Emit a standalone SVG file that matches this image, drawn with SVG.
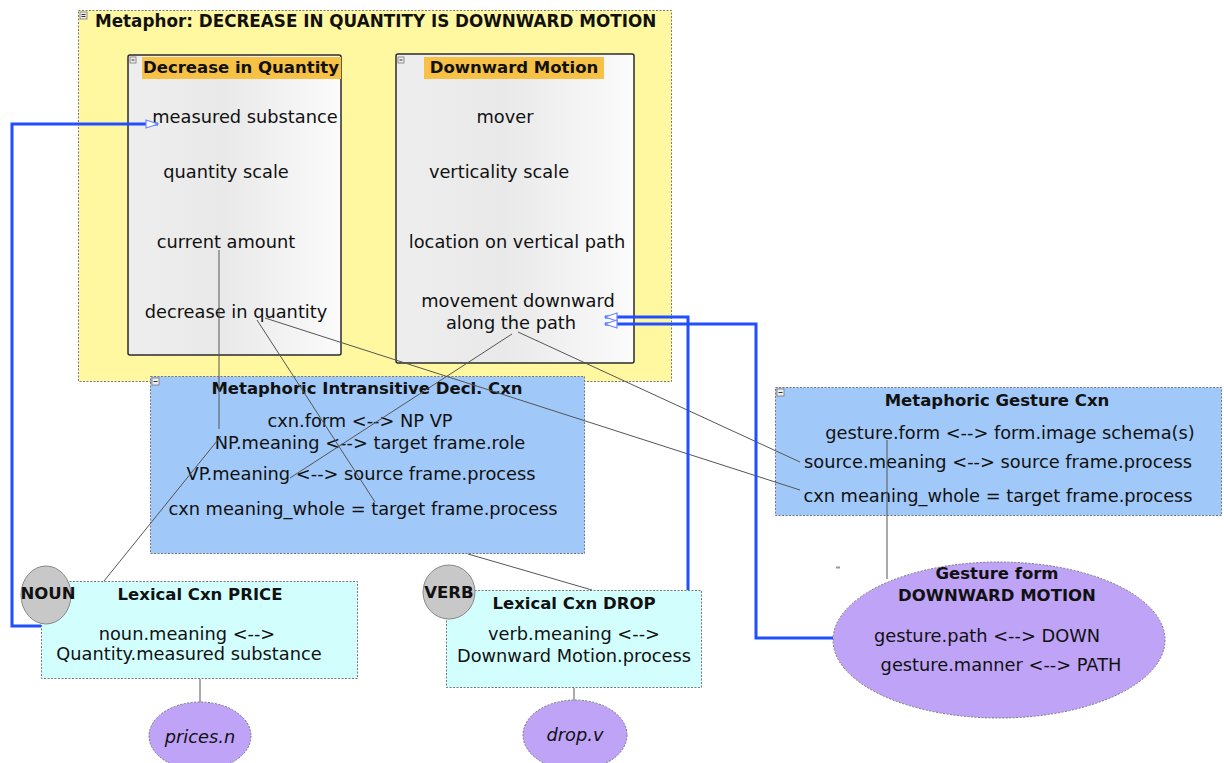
<svg xmlns="http://www.w3.org/2000/svg" width="1224" height="763" viewBox="0 0 1224 763">
  <style>
    text { font-family: "DejaVu Sans", "Liberation Sans", sans-serif; fill: #111; }
    .t { font-size: 17.8px; text-anchor: middle; }
    .b { font-size: 16.5px; font-weight: bold; text-anchor: middle; }
    .i { font-size: 17.8px; font-style: italic; text-anchor: middle; }
    .dash { stroke: #777; stroke-width: 1; stroke-dasharray: 2 1.5; }
    .frame { fill: url(#frameFill); stroke: #2b2b2b; stroke-width: 1.5; }
    .hl { fill: #f6c145; }
    .cxn { fill: #a0c8f8; }
    .lex { fill: #d2fffe; }
    .lav { fill: #bea3f7; }
    .tag { fill: #c8c8c8; stroke: #888; stroke-width: 1; }
    .thin { stroke: #555; stroke-width: 1; fill: none; }
    .bind { stroke: #1f4fff; stroke-width: 3; fill: none; }
    .icon { fill: #eee; stroke: #777; stroke-width: 0.8; }
    .iconline { stroke: #333; stroke-width: 1; }
  </style>
  <defs>
    <linearGradient id="frameFill" x1="0" y1="0" x2="1" y2="0">
      <stop offset="0" stop-color="#eeeeee"/>
      <stop offset="0.45" stop-color="#e9e9e9"/>
      <stop offset="1" stop-color="#fbfbfb"/>
    </linearGradient>
    <marker id="open" viewBox="0 0 14 10" refX="13" refY="5" markerWidth="14" markerHeight="10" markerUnits="userSpaceOnUse" orient="auto">
      <path d="M1,1 L13,5 L1,9 Z" fill="#fff" stroke="#6d86ff" stroke-width="1.2"/>
    </marker>
  </defs>

  <rect width="1224" height="763" fill="#fff"/>

  <!-- metaphor container -->
  <g id="metaphor">
    <rect x="78.5" y="10.5" width="593" height="371" fill="#fff8a0" class="dash"/>
    <rect x="80" y="12" width="7" height="7" class="icon"/>
    <line x1="81.5" y1="14.5" x2="85.5" y2="14.5" class="iconline"/>
    <line x1="81.5" y1="16.5" x2="85.5" y2="16.5" class="iconline"/>
    <text x="95" y="27" font-size="16.8" font-weight="bold">Metaphor: DECREASE IN QUANTITY IS DOWNWARD MOTION</text>
  </g>

  <!-- source/target frames -->
  <g id="frame-quantity">
    <rect x="128" y="55" width="213" height="300" rx="2" class="frame"/>
    <rect x="142" y="57" width="199" height="22" class="hl"/>
    <rect x="130" y="57" width="6" height="6" class="icon"/>
    <line x1="131.5" y1="60" x2="134.5" y2="60" class="iconline"/>
    <text x="241" y="73" class="b">Decrease in Quantity</text>
    <text x="245" y="123" class="t">measured substance</text>
    <text x="226" y="178" class="t">quantity scale</text>
    <text x="226" y="248" class="t">current amount</text>
    <text x="236" y="318" class="t">decrease in quantity</text>
  </g>

  <g id="frame-motion">
    <rect x="396" y="54" width="238" height="309" rx="2" class="frame"/>
    <rect x="424" y="57" width="180" height="22" class="hl"/>
    <rect x="398" y="57" width="6" height="6" class="icon"/>
    <line x1="399.5" y1="60" x2="402.5" y2="60" class="iconline"/>
    <text x="514" y="73" class="b">Downward Motion</text>
    <text x="505" y="123" class="t">mover</text>
    <text x="499" y="178" class="t">verticality scale</text>
    <text x="517" y="248" class="t">location on vertical path</text>
    <text x="518" y="307" class="t">movement downward</text>
    <text x="511" y="329" class="t">along the path</text>
  </g>

  <!-- grammatical construction -->
  <g id="cxn-intransitive">
    <rect x="150.5" y="376.5" width="434" height="177" class="cxn dash"/>
    <rect x="152" y="378" width="7" height="7" class="icon"/>
    <line x1="153.5" y1="381.5" x2="157.5" y2="381.5" class="iconline"/>
    <text x="367" y="394" class="b">Metaphoric Intransitive Decl. Cxn</text>
    <text x="360" y="427" class="t">cxn.form &lt;--&gt; NP VP</text>
    <text x="370" y="449" class="t">NP.meaning &lt;--&gt; target frame.role</text>
    <text x="361" y="480" class="t">VP.meaning &lt;--&gt; source frame.process</text>
    <text x="363" y="515" class="t">cxn meaning_whole = target frame.process</text>
  </g>

  <!-- gesture construction -->
  <g id="cxn-gesture">
    <rect x="775.5" y="387.5" width="446" height="128" class="cxn dash"/>
    <rect x="777" y="389" width="7" height="7" class="icon"/>
    <line x1="778.5" y1="392.5" x2="782.5" y2="392.5" class="iconline"/>
    <text x="997" y="406" class="b">Metaphoric Gesture Cxn</text>
    <text x="1010" y="439" class="t">gesture.form &lt;--&gt; form.image schema(s)</text>
    <text x="998" y="468" class="t">source.meaning &lt;--&gt; source frame.process</text>
    <text x="998" y="502" class="t">cxn meaning_whole = target frame.process</text>
  </g>

  <!-- lexical constructions -->
  <g id="lex-price">
    <rect x="41.5" y="581.5" width="316" height="97" class="lex dash"/>
    <text x="200" y="600" class="b">Lexical Cxn PRICE</text>
    <text x="187" y="640" class="t">noun.meaning &lt;--&gt;</text>
    <text x="189" y="660" class="t">Quantity.measured substance</text>
  </g>
  <g id="tag-noun">
    <ellipse cx="46" cy="595" rx="25" ry="29" class="tag"/>
    <text x="48" y="599" class="b">NOUN</text>
  </g>

  <g id="lex-drop">
    <rect x="446.5" y="590.5" width="255" height="97" class="lex dash"/>
    <text x="574" y="609" class="b">Lexical Cxn DROP</text>
    <text x="574" y="640" class="t">verb.meaning &lt;--&gt;</text>
    <text x="574" y="662" class="t">Downward Motion.process</text>
  </g>
  <g id="tag-verb">
    <ellipse cx="449" cy="592" rx="26" ry="27" class="tag"/>
    <text x="449" y="598" class="b">VERB</text>
  </g>

  <g id="word-prices">
    <ellipse cx="200" cy="736" rx="51" ry="34" class="lav dash"/>
    <text x="200" y="743" class="i">prices.n</text>
  </g>
  <g id="word-drop">
    <ellipse cx="575" cy="735" rx="52" ry="35" class="lav dash"/>
    <text x="575" y="741" class="i">drop.v</text>
  </g>

  <!-- gesture form -->
  <g id="gesture-form">
    <rect x="836" y="566.5" width="4" height="2" fill="#999"/>
    <ellipse cx="999" cy="640" rx="166" ry="78" class="lav dash"/>
    <text x="997" y="579" class="b">Gesture form</text>
    <text x="997" y="601" class="b">DOWNWARD MOTION</text>
    <text x="987" y="642" class="t">gesture.path &lt;--&gt; DOWN</text>
    <text x="1001" y="671" class="t">gesture.manner &lt;--&gt; PATH</text>
  </g>

  <!-- role links and bindings -->
  <g id="connectors">
    <line x1="219" y1="250" x2="219" y2="429" class="thin"/>
    <line x1="257" y1="320" x2="375" y2="502" class="thin"/>
    <line x1="265" y1="318" x2="800" y2="490" class="thin"/>
    <line x1="518" y1="332" x2="800" y2="462" class="thin"/>
    <line x1="512" y1="334" x2="290" y2="478" class="thin"/>
    <line x1="221" y1="436" x2="104" y2="581" class="thin"/>
    <line x1="468" y1="554" x2="592" y2="590" class="thin"/>
    <line x1="887" y1="440" x2="887" y2="579" class="thin"/>
    <line x1="200" y1="679" x2="200" y2="702" class="thin"/>
    <line x1="574" y1="688" x2="574" y2="700" class="thin"/>

    <path d="M41,626 L12,626 L12,124 L158,124" class="bind" marker-end="url(#open)"/>
    <path d="M688,590 L688,317 L605,317" class="bind" marker-end="url(#open)"/>
    <path d="M833,638 L756,638 L756,324 L605,324" class="bind" marker-end="url(#open)"/>
  </g>
</svg>
